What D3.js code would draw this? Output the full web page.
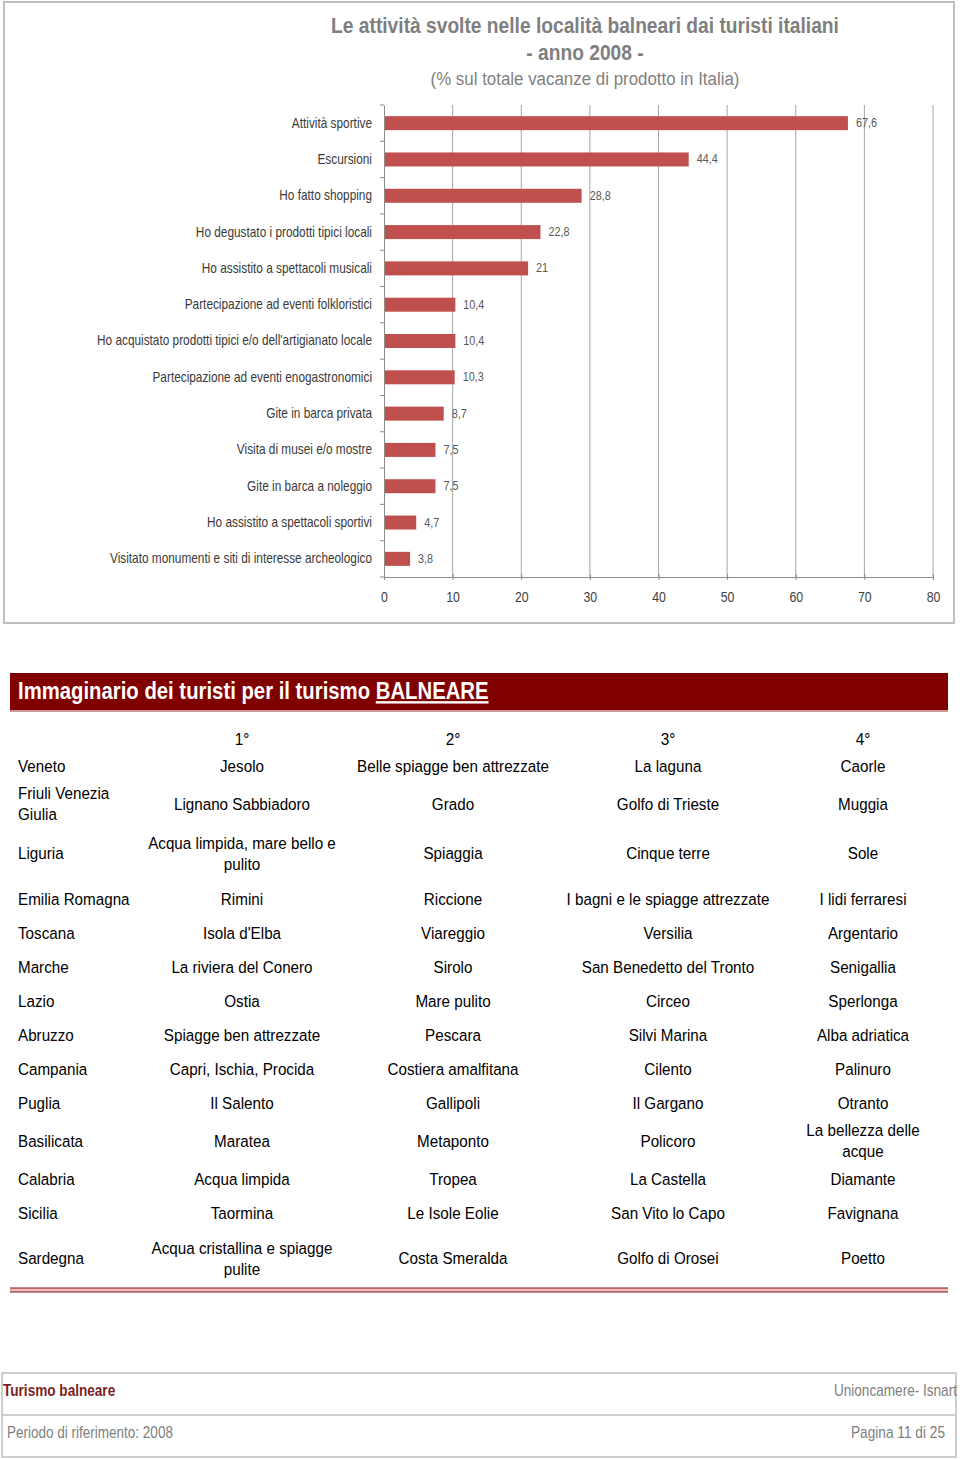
<!DOCTYPE html>
<html><head><meta charset="utf-8">
<script src="https://cdn.jsdelivr.net/npm/d3@7"></script>
<style>
body{margin:0;background:#fff;}
svg{display:block;}
</style></head>
<body>
<svg id="c" width="960" height="1459"></svg>
<script>
// ---------- DATA ----------
const titleLines = ["Le attività svolte nelle località balneari dai turisti italiani", "- anno 2008 -"];
const subtitle = "(% sul totale vacanze di prodotto in Italia)";
const activities = [
  "Attività sportive","Escursioni","Ho fatto shopping","Ho degustato i prodotti tipici locali",
  "Ho assistito a spettacoli musicali","Partecipazione ad eventi folkloristici",
  "Ho acquistato prodotti tipici e/o dell'artigianato locale","Partecipazione ad eventi enogastronomici",
  "Gite in barca privata","Visita di musei e/o mostre","Gite in barca a noleggio",
  "Ho assistito a spettacoli sportivi","Visitato monumenti e siti di interesse archeologico"];
const shares = [67.6,44.4,28.8,22.8,21,10.4,10.4,10.3,8.7,7.5,7.5,4.7,3.8];
const xTicks = [0,10,20,30,40,50,60,70,80];

const tableTitle = "Immaginario dei turisti per il turismo ";
const tableTitleU = "BALNEARE";
const rankHeaders = ["1°","2°","3°","4°"];
const regions = ["Veneto","Friuli Venezia|Giulia","Liguria","Emilia Romagna","Toscana","Marche","Lazio","Abruzzo","Campania","Puglia","Basilicata","Calabria","Sicilia","Sardegna"];
const first = ["Jesolo","Lignano Sabbiadoro","Acqua limpida, mare bello e|pulito","Rimini","Isola d'Elba","La riviera del Conero","Ostia","Spiagge ben attrezzate","Capri, Ischia, Procida","Il Salento","Maratea","Acqua limpida","Taormina","Acqua cristallina e spiagge|pulite"];
const second = ["Belle spiagge ben attrezzate","Grado","Spiaggia","Riccione","Viareggio","Sirolo","Mare pulito","Pescara","Costiera amalfitana","Gallipoli","Metaponto","Tropea","Le Isole Eolie","Costa Smeralda"];
const third = ["La laguna","Golfo di Trieste","Cinque terre","I bagni e le spiagge attrezzate","Versilia","San Benedetto del Tronto","Circeo","Silvi Marina","Cilento","Il Gargano","Policoro","La Castella","San Vito lo Capo","Golfo di Orosei"];
const fourth = ["Caorle","Muggia","Sole","I lidi ferraresi","Argentario","Senigallia","Sperlonga","Alba adriatica","Palinuro","Otranto","La bellezza delle|acque","Diamante","Favignana","Poetto"];

const footerLeftTop = "Turismo balneare";
const footerRightTop = "Unioncamere- Isnart";
const footerLeftBottom = "Periodo di riferimento: 2008";
const footerRightBottom = "Pagina 11 di 25";

// ---------- HELPERS ----------
const svg = d3.select("#c");
const SANS = "'Liberation Sans',Arial,sans-serif";
// horizontal squeeze (emulates a narrow typeface) around the text's own anchor x
function condense(sel, f){
  sel.each(function(){
    const x0 = +(this.getAttribute("x") || 0);
    this.setAttribute("x", (x0/f).toFixed(2));
    const prev = this.getAttribute("transform");
    this.setAttribute("transform", (prev ? prev + " " : "") + `scale(${f},1)`);
  });
  return sel;
}

// ---------- CHART ----------
svg.append("rect").attr("x",4).attr("y",2).attr("width",950).attr("height",621)
  .attr("fill","#fff").attr("stroke","#bfbfbf").attr("stroke-width",2);

condense(svg.append("text").attr("x",585).attr("y",33).attr("text-anchor","middle")
  .attr("font-family",SANS).attr("font-weight","bold").attr("font-size",22).attr("fill","#7f7f7f")
  .text(titleLines[0]), 0.873);
condense(svg.append("text").attr("x",585).attr("y",60).attr("text-anchor","middle")
  .attr("font-family",SANS).attr("font-weight","bold").attr("font-size",22).attr("fill","#7f7f7f")
  .text(titleLines[1]), 0.873);
condense(svg.append("text").attr("x",585).attr("y",85).attr("text-anchor","middle")
  .attr("font-family",SANS).attr("font-size",19).attr("fill","#7f7f7f")
  .text(subtitle), 0.89);

const x = d3.scaleLinear().domain([0,80]).range([384,933]);
const band = d3.scaleBand().domain(activities).range([105,577]);

const g = svg.append("g");
g.selectAll("line.grid").data(xTicks.slice(1)).join("line")
  .attr("x1",d=>x(d)).attr("x2",d=>x(d)).attr("y1",105).attr("y2",577)
  .attr("stroke","#a6a6a6").attr("stroke-width",1);

const bh = 14;
g.selectAll("rect.bar").data(activities).join("rect")
  .attr("x",x(0)).attr("y",(d)=>band(d)+band.bandwidth()/2-bh/2)
  .attr("width",(d,i)=>x(shares[i])-x(0)).attr("height",bh).attr("fill","#c0504d");

condense(g.selectAll("text.val").data(activities).join("text")
  .attr("x",(d,i)=>x(shares[i])+8).attr("y",d=>band(d)+band.bandwidth()/2+4)
  .attr("font-family",SANS).attr("font-size",12).attr("fill","#595959")
  .text((d,i)=>String(shares[i]).replace(".",",")), 0.9);

const xa = g.append("g").attr("transform","translate(0,577)")
  .call(d3.axisBottom(x).tickValues(xTicks).tickSize(5).tickSizeOuter(0).tickPadding(10));
xa.select(".domain").attr("stroke","#8c8c8c");
xa.selectAll(".tick line").attr("stroke","#8c8c8c").attr("y1",-3).attr("y2",3);
condense(xa.selectAll(".tick text").attr("font-family",SANS).attr("font-size",14).attr("fill","#404040"), 0.88);

const ya = g.append("g").attr("transform","translate(384,0)")
  .call(d3.axisLeft(band).tickSize(0).tickPadding(12));
ya.select(".domain").attr("stroke","#8c8c8c");
condense(ya.selectAll(".tick text").attr("font-family",SANS).attr("font-size",14).attr("fill","#3a3a3a"), 0.845);
g.selectAll("line.yt").data(activities.concat(["_end"])).join("line")
  .attr("x1",380).attr("x2",384)
  .attr("y1",(d,i)=>105+i*band.step()).attr("y2",(d,i)=>105+i*band.step())
  .attr("stroke","#8c8c8c");

// ---------- TABLE ----------
svg.append("rect").attr("x",10).attr("y",673).attr("width",938).attr("height",37).attr("fill","#800000");
svg.append("line").attr("x1",10).attr("x2",948).attr("y1",711).attr("y2",711).attr("stroke","#c99").attr("stroke-width",2);
const tt = svg.append("text").attr("x",18).attr("y",699).attr("font-family",SANS).attr("font-weight","bold")
  .attr("font-size",24).attr("fill","#fff");
tt.append("tspan").text(tableTitle);
tt.append("tspan").attr("text-decoration","underline").text(tableTitleU);
condense(tt, 0.847);

const colCenters = [242,453,668,863];
const cols = [first,second,third,fourth];
condense(svg.selectAll("text.rh").data(rankHeaders).join("text")
  .attr("x",(d,i)=>colCenters[i]).attr("y",745).attr("text-anchor","middle")
  .attr("font-family",SANS).attr("font-size",17).attr("fill","#000").text(d=>d), 0.9);

let yy = 749;
const rows = regions.map((r,i)=>{
  const wrapped1 = first[i].includes("|");
  const wrappedAny = [r,second[i],third[i],fourth[i]].some(s=>s.includes("|"));
  const h = wrapped1 ? 57 : (wrappedAny ? 42 : 34);
  const o = {i, top: yy, h};
  yy += h;
  return o;
});
function cellText(s, cx, cy, anchor){
  const lines = s.split("|");
  const lh = 21;
  lines.forEach((l,k)=>{
    const t = svg.append("text").attr("font-family",SANS).attr("font-size",17).attr("fill","#000")
      .attr("text-anchor",anchor).attr("x",cx).attr("y",cy + (k-(lines.length-1)/2)*lh + 6).text(l);
    condense(t, 0.895);
  });
}
rows.forEach(r=>{
  const cy = r.top + r.h/2;
  cellText(regions[r.i], 18, cy, "start");
  cols.forEach((c,j)=>cellText(c[r.i], colCenters[j], cy, "middle"));
});
svg.append("rect").attr("x",10).attr("y",1288).attr("width",938).attr("height",4).attr("fill","#f2b8b8");
svg.append("line").attr("x1",10).attr("x2",948).attr("y1",1288).attr("y2",1288).attr("stroke","#7a1a1a").attr("stroke-width",1.2);
svg.append("line").attr("x1",10).attr("x2",948).attr("y1",1292).attr("y2",1292).attr("stroke","#7a1a1a").attr("stroke-width",1.2);

// ---------- FOOTER ----------
svg.append("rect").attr("x",2).attr("y",1373).attr("width",954).attr("height",84)
  .attr("fill","none").attr("stroke","#bfbfbf").attr("stroke-width",1.5);
svg.append("line").attr("x1",2).attr("x2",956).attr("y1",1415).attr("y2",1415).attr("stroke","#bfbfbf").attr("stroke-width",1.5);
condense(svg.append("text").attr("x",3).attr("y",1396).attr("font-family",SANS).attr("font-weight","bold")
  .attr("font-size",16).attr("fill","#7b2323").text(footerLeftTop), 0.85);
condense(svg.append("text").attr("x",957).attr("y",1396).attr("text-anchor","end").attr("font-family",SANS)
  .attr("font-size",16).attr("fill","#808080").text(footerRightTop), 0.85);
condense(svg.append("text").attr("x",7).attr("y",1438).attr("font-family",SANS)
  .attr("font-size",16).attr("fill","#808080").text(footerLeftBottom), 0.845);
condense(svg.append("text").attr("x",945).attr("y",1438).attr("text-anchor","end").attr("font-family",SANS)
  .attr("font-size",16).attr("fill","#808080").text(footerRightBottom), 0.855);
</script>
</body></html>
